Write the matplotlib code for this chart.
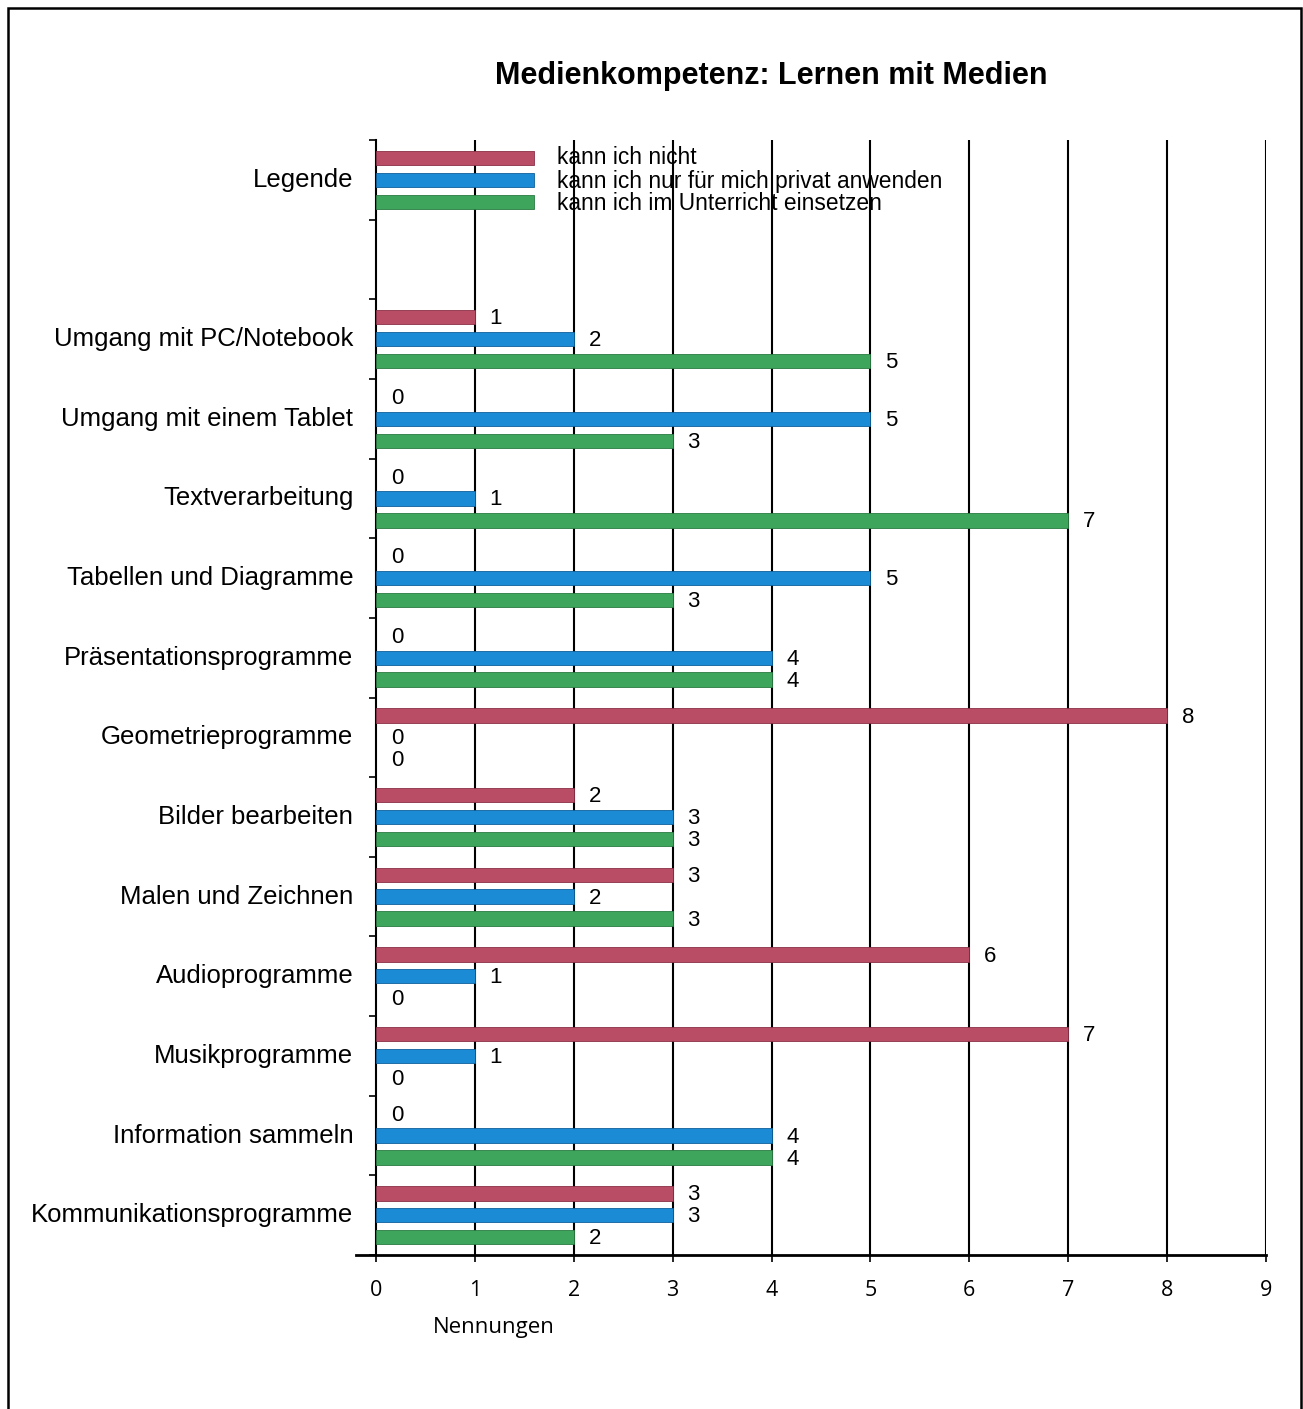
import numpy as np
import matplotlib.pyplot as plt
from matplotlib.patches import Rectangle

# ---------------------------------------------------------------------------
# Data
# ---------------------------------------------------------------------------
categories = [
    "Umgang mit PC/Notebook",
    "Umgang mit einem Tablet",
    "Textverarbeitung",
    "Tabellen und Diagramme",
    "Präsentationsprogramme",
    "Geometrieprogramme",
    "Bilder bearbeiten",
    "Malen und Zeichnen",
    "Audioprogramme",
    "Musikprogramme",
    "Information sammeln",
    "Kommunikationsprogramme",
]
kann_nicht = [1, 0, 0, 0, 0, 8, 2, 3, 6, 7, 0, 3]
nur_privat = [2, 5, 1, 5, 4, 0, 3, 2, 1, 1, 4, 3]
unterricht = [5, 3, 7, 3, 4, 0, 3, 3, 0, 0, 4, 2]
series_names = [
    "kann ich nicht",
    "kann ich nur für mich privat anwenden",
    "kann ich im Unterricht einsetzen",
]
legend_len = 1.6
x_ticks = list(range(10))

COLORS = ["#b84d65", "#1c8bd6", "#3ea65c"]
EDGES = ["#8a2f45", "#0f5f9a", "#2a7a42"]
OFFSETS = [0.226, 0.5, 0.776]
BAR_H = 0.18

plt.rcParams["font.family"] = ["Liberation Sans", "DejaVu Sans"]

fig = plt.figure(figsize=(13.03, 14.09), dpi=100)
ax = fig.add_axes([376 / 1303, 1 - 1255 / 1409, 890 / 1303, 1115 / 1409])

# outer frame of the scanned page (bottom edge cut off)
fig.patches.append(Rectangle((8 / 1303, -0.01), 1293 / 1303, 1.01 - 8 / 1409,
                             transform=fig.transFigure, fill=False,
                             edgecolor="black", lw=1.8))

# vertical grid lines
for xv in range(1, 10):
    ax.axvline(xv, color="black", lw=1.5, zorder=1)

# legend group drawn as bars
for k in range(3):
    ax.barh(OFFSETS[k], legend_len, height=BAR_H, left=0, color=COLORS[k],
            edgecolor=EDGES[k], lw=0.6, zorder=3)
    ax.text(1.83, OFFSETS[k] + (0.02 if k else 0), series_names[k],
            fontsize=16.4, va="center", ha="left", zorder=4)

# data groups
series = [kann_nicht, nur_privat, unterricht]
for i, cat in enumerate(categories):
    g = i + 2
    for k in range(3):
        v = series[k][i]
        y = g + OFFSETS[k]
        if v > 0:
            ax.barh(y, v, height=BAR_H, left=0, color=COLORS[k],
                    edgecolor=EDGES[k], lw=0.6, zorder=3)
        ax.text(v + 0.15, y + 0.02, str(v), fontsize=16,
                va="center", ha="left", zorder=4)

ax.set_xlim(0, 9)
ax.set_ylim(14, 0)

ax.set_yticks(np.arange(0, 15))
ax.set_yticklabels([])
label_pos = [0.5] + [i + 2.5 for i in range(len(categories))]
label_txt = ["Legende"] + categories
for yp, t in zip(label_pos, label_txt):
    ax.text(-0.23, yp, t, fontsize=18.5, ha="right", va="center")
ax.tick_params(axis="y", direction="out", length=5, width=1.2)

ax.set_xticks(x_ticks)
ax.set_xticklabels([str(t) for t in x_ticks], family=["Open Sans", "DejaVu Sans"],
                   fontsize=15.5)
ax.tick_params(axis="x", direction="out", length=5, width=1.2, pad=13)

for s in ["top", "right"]:
    ax.spines[s].set_visible(False)
ax.spines["left"].set_linewidth(1.5)
ax.spines["bottom"].set_linewidth(2.0)
ax.spines["bottom"].set_bounds(-0.2, 9)

fig.text(494 / 1303, 1 - 1328 / 1409, "Nennungen", fontsize=16,
         family=["Open Sans", "DejaVu Sans"], ha="center", va="center")
fig.text(771 / 1303, 1 - 76 / 1409, "Medienkompetenz: Lernen mit Medien",
         fontsize=22, fontweight="bold", ha="center", va="center")

fig.savefig("out.png", dpi=100)
